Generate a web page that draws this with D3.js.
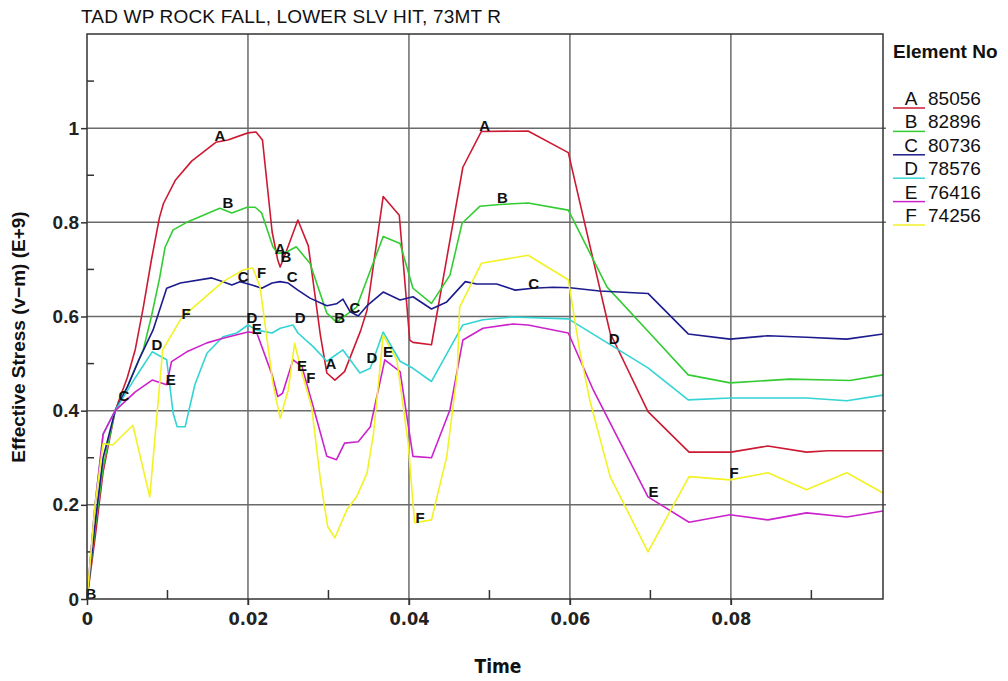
<!DOCTYPE html>
<html>
<head>
<meta charset="utf-8">
<script src="https://d3js.org/d3.v7.min.js"></script>
<style>
  body { margin: 0; background: #fff; }
  svg { display: block; font-family: "Liberation Sans", Arial, sans-serif; }
</style>
</head>
<body>
<svg width="1008" height="681"></svg>
<script>
// element numbers + letters for the legend
var letters = ["A", "B", "C", "D", "E", "F"];
var elements = ["85056", "82896", "80736", "78576", "76416", "74256"];
var colors = ["#cc1a33", "#33cc33", "#1c1c8e", "#33d4d4", "#cc22cc", "#f2f224"];

// [time, stress]
var stressA = [[0,0],[0.001,0.13],[0.002,0.27],[0.0035,0.40],[0.005,0.47],[0.006,0.53],[0.007,0.62],[0.008,0.72],[0.009,0.81],[0.0095,0.84],[0.011,0.89],[0.013,0.93],[0.016,0.97],[0.0175,0.975],[0.02,0.99],[0.021,0.992],[0.0218,0.975],[0.023,0.78],[0.0237,0.72],[0.024,0.705],[0.0248,0.74],[0.0262,0.805],[0.0275,0.75],[0.029,0.56],[0.0298,0.48],[0.0308,0.465],[0.032,0.483],[0.034,0.57],[0.0348,0.614],[0.0368,0.855],[0.0388,0.815],[0.0401,0.55],[0.0405,0.545],[0.0428,0.54],[0.0467,0.917],[0.049,0.993],[0.0548,0.994],[0.0598,0.948],[0.065,0.565],[0.0697,0.398],[0.0748,0.312],[0.08,0.312],[0.0846,0.325],[0.0894,0.312],[0.092,0.315],[0.0989,0.315]];
var stressB = [[0,0],[0.001,0.15],[0.002,0.28],[0.0035,0.40],[0.005,0.45],[0.006,0.49],[0.007,0.53],[0.008,0.6],[0.009,0.68],[0.0097,0.747],[0.0107,0.784],[0.0124,0.8],[0.0165,0.83],[0.018,0.82],[0.0199,0.832],[0.0209,0.832],[0.0217,0.82],[0.0231,0.748],[0.0237,0.734],[0.0248,0.737],[0.026,0.748],[0.0277,0.713],[0.0298,0.607],[0.031,0.588],[0.0335,0.62],[0.0368,0.77],[0.0389,0.755],[0.0405,0.66],[0.0428,0.628],[0.0451,0.688],[0.0466,0.798],[0.0488,0.834],[0.0513,0.838],[0.0548,0.841],[0.0598,0.826],[0.0646,0.663],[0.0699,0.565],[0.0747,0.476],[0.0799,0.459],[0.0873,0.467],[0.0923,0.465],[0.0948,0.464],[0.0989,0.476]];
var stressC = [[0,0],[0.001,0.16],[0.002,0.3],[0.0035,0.40],[0.005,0.45],[0.0065,0.51],[0.0082,0.571],[0.0099,0.66],[0.0116,0.671],[0.0155,0.682],[0.0169,0.674],[0.018,0.667],[0.019,0.674],[0.0205,0.667],[0.0217,0.66],[0.023,0.671],[0.024,0.674],[0.025,0.671],[0.0262,0.656],[0.0277,0.639],[0.0298,0.623],[0.031,0.627],[0.0318,0.637],[0.0327,0.61],[0.0337,0.601],[0.0348,0.623],[0.0368,0.652],[0.0389,0.635],[0.0405,0.642],[0.0428,0.616],[0.0447,0.631],[0.047,0.674],[0.0484,0.669],[0.0509,0.669],[0.0532,0.656],[0.0554,0.66],[0.0579,0.662],[0.06,0.661],[0.0637,0.654],[0.0697,0.649],[0.0747,0.563],[0.0799,0.552],[0.0846,0.559],[0.0894,0.556],[0.0944,0.552],[0.0989,0.563]];
var stressD = [[0,0],[0.001,0.2],[0.002,0.35],[0.0035,0.40],[0.006,0.47],[0.0081,0.525],[0.0099,0.508],[0.0107,0.395],[0.0112,0.366],[0.0122,0.366],[0.0134,0.455],[0.0149,0.522],[0.0169,0.557],[0.0186,0.565],[0.02,0.582],[0.0211,0.571],[0.023,0.565],[0.024,0.575],[0.0256,0.582],[0.0262,0.565],[0.0281,0.536],[0.0298,0.505],[0.0318,0.529],[0.0339,0.48],[0.0352,0.49],[0.0368,0.567],[0.0389,0.505],[0.0405,0.49],[0.0428,0.462],[0.0467,0.582],[0.0492,0.593],[0.0529,0.599],[0.0598,0.595],[0.0697,0.491],[0.0747,0.423],[0.0799,0.427],[0.0894,0.427],[0.0944,0.421],[0.0989,0.433]];
var stressE = [[0,0],[0.001,0.2],[0.002,0.35],[0.0035,0.40],[0.006,0.44],[0.0081,0.465],[0.0099,0.455],[0.0105,0.504],[0.0124,0.525],[0.0149,0.544],[0.0169,0.554],[0.02,0.567],[0.0211,0.565],[0.023,0.476],[0.0237,0.43],[0.0243,0.437],[0.0256,0.508],[0.0267,0.494],[0.0281,0.409],[0.0298,0.303],[0.031,0.296],[0.032,0.331],[0.0337,0.334],[0.0352,0.366],[0.037,0.508],[0.0389,0.483],[0.0405,0.303],[0.0428,0.3],[0.0451,0.402],[0.0467,0.55],[0.0492,0.575],[0.0529,0.584],[0.0548,0.582],[0.0598,0.565],[0.0629,0.444],[0.0697,0.217],[0.0748,0.163],[0.0799,0.179],[0.0846,0.168],[0.0894,0.183],[0.0944,0.174],[0.0989,0.187]];
var stressF = [[0,0],[0.001,0.2],[0.002,0.33],[0.0032,0.327],[0.0057,0.369],[0.0078,0.217],[0.0094,0.529],[0.0116,0.593],[0.0124,0.607],[0.0169,0.674],[0.0194,0.699],[0.0206,0.703],[0.0215,0.663],[0.0231,0.458],[0.024,0.384],[0.025,0.444],[0.0258,0.543],[0.0267,0.48],[0.0279,0.409],[0.029,0.253],[0.0299,0.154],[0.0308,0.13],[0.0323,0.19],[0.0335,0.217],[0.0348,0.268],[0.0356,0.352],[0.0368,0.56],[0.0385,0.508],[0.0399,0.331],[0.0407,0.162],[0.0428,0.168],[0.0447,0.303],[0.046,0.48],[0.0463,0.62],[0.049,0.713],[0.0548,0.73],[0.0598,0.678],[0.0612,0.529],[0.0625,0.42],[0.065,0.26],[0.0697,0.1],[0.0748,0.26],[0.0799,0.253],[0.0846,0.268],[0.0894,0.232],[0.0944,0.268],[0.0989,0.225]];

// where the letters sit on the curves [time, stress]
var marksA = [[0.0165,0.985],[0.024,0.745],[0.0303,0.50],[0.0494,1.006]];
var marksB = [[0.0175,0.843],[0.0247,0.728],[0.0314,0.597],[0.0516,0.852],[0.0005,0.011]];
var marksC = [[0.0046,0.432],[0.0194,0.686],[0.0255,0.684],[0.0333,0.62],[0.0555,0.671]];
var marksD = [[0.0087,0.54],[0.0205,0.597],[0.0265,0.597],[0.0354,0.512],[0.0655,0.554]];
var marksE = [[0.0104,0.466],[0.0211,0.574],[0.0267,0.495],[0.0374,0.525],[0.0704,0.228]];
var marksF = [[0.0123,0.607],[0.0217,0.694],[0.0278,0.47],[0.0414,0.173],[0.0804,0.268]];

var xTicks = [0, 0.02, 0.04, 0.06, 0.08];
var xMinor = [0.01, 0.03, 0.05, 0.07, 0.09];
var yTicks = [0, 0.2, 0.4, 0.6, 0.8, 1];
var yMinor = [0.1, 0.3, 0.5, 0.7, 0.9, 1.1];

var series = [stressA, stressB, stressC, stressD, stressE, stressF];
var marks = [marksA, marksB, marksC, marksD, marksE, marksF];

var svg = d3.select("svg");
var plotLeft = 87, plotRight = 883, plotTop = 34, plotBottom = 599;
var narrow = "'DejaVu Sans Condensed', 'Liberation Sans Narrow', sans-serif";

var x = d3.scaleLinear().domain([0, 0.0989]).range([plotLeft, plotRight]);
var y = d3.scaleLinear().domain([0, 1.2]).range([plotBottom, plotTop]);

// grid lines
svg.append("g")
  .selectAll("line")
  .data(xTicks.slice(1))
  .enter().append("line")
    .attr("x1", function(d) { return x(d); })
    .attr("x2", function(d) { return x(d); })
    .attr("y1", plotTop).attr("y2", plotBottom + 6)
    .attr("stroke", "#6a6a6a").attr("stroke-width", 1.5);

svg.append("g")
  .selectAll("line")
  .data(yTicks.slice(1))
  .enter().append("line")
    .attr("x1", plotLeft).attr("x2", plotRight + 3)
    .attr("y1", function(d) { return y(d); })
    .attr("y2", function(d) { return y(d); })
    .attr("stroke", "#6a6a6a").attr("stroke-width", 1.5);

// axes
var xAxis = svg.append("g")
    .attr("transform", "translate(0," + plotBottom + ")")
    .call(d3.axisBottom(x).tickValues(xTicks).tickSize(6).tickFormat(d3.format("")));
xAxis.select(".domain").remove();
xAxis.selectAll("line").attr("stroke", "#333").attr("stroke-width", 1.5);
xAxis.selectAll("text")
    .attr("y", 13)
    .attr("font-family", narrow)
    .attr("font-weight", "bold")
    .attr("font-size", 18)
    .attr("fill", "#222");

svg.append("g")
  .selectAll("line")
  .data(xMinor)
  .enter().append("line")
    .attr("x1", function(d) { return x(d); })
    .attr("x2", function(d) { return x(d); })
    .attr("y1", plotBottom).attr("y2", plotBottom - 9)
    .attr("stroke", "#333").attr("stroke-width", 1.5);

var yAxis = svg.append("g")
    .attr("transform", "translate(" + plotLeft + ",0)")
    .call(d3.axisLeft(y).tickValues(yTicks).tickSize(6).tickFormat(d3.format("")));
yAxis.select(".domain").remove();
yAxis.selectAll("line").attr("stroke", "#333").attr("stroke-width", 1.5);
yAxis.selectAll("text")
    .attr("x", -8)
    .attr("font-family", "'Liberation Sans', Arial, sans-serif")
    .attr("font-weight", "bold")
    .attr("font-size", 19)
    .attr("fill", "#222");

svg.append("g")
  .selectAll("line")
  .data(yMinor)
  .enter().append("line")
    .attr("x1", plotLeft).attr("x2", plotLeft + 7)
    .attr("y1", function(d) { return y(d); })
    .attr("y2", function(d) { return y(d); })
    .attr("stroke", "#333").attr("stroke-width", 1.5);

// the curves
var line = d3.line()
    .x(function(d) { return x(d[0]); })
    .y(function(d) { return y(d[1]); });

svg.append("g")
  .selectAll("path")
  .data(series)
  .enter().append("path")
    .attr("d", line)
    .attr("fill", "none")
    .attr("stroke", function(d, i) { return colors[i]; })
    .attr("stroke-width", 1.6)
    .attr("stroke-linejoin", "round");

// letters on the curves
marks.forEach(function(m, i) {
  svg.append("g")
    .selectAll("text")
    .data(m)
    .enter().append("text")
      .attr("x", function(d) { return x(d[0]); })
      .attr("y", function(d) { return y(d[1]); })
      .attr("text-anchor", "middle")
      .attr("dominant-baseline", "central")
      .attr("font-weight", "bold")
      .attr("font-size", 15)
      .attr("fill", "#111")
      .text(letters[i]);
});

// frame
svg.append("rect")
    .attr("x", plotLeft).attr("y", plotTop)
    .attr("width", plotRight - plotLeft).attr("height", plotBottom - plotTop)
    .attr("fill", "none")
    .attr("stroke", "#333").attr("stroke-width", 1.5);

// titles
svg.append("text")
    .attr("x", 81).attr("y", 23)
    .attr("font-size", 19)
    .attr("textLength", 420)
    .attr("fill", "#111")
    .text("TAD WP ROCK FALL, LOWER SLV HIT, 73MT R");

svg.append("text")
    .attr("x", 498).attr("y", 673)
    .attr("text-anchor", "middle")
    .attr("font-family", narrow)
    .attr("font-weight", "bold")
    .attr("font-size", 19)
    .attr("fill", "#111")
    .text("Time");

svg.append("text")
    .attr("transform", "translate(25,337) rotate(-90)")
    .attr("text-anchor", "middle")
    .attr("font-weight", "bold")
    .attr("font-size", 19)
    .attr("fill", "#111")
    .text("Effective Stress (v\u2212m) (E+9)");

// legend
var legend = svg.append("g").attr("transform", "translate(893,0)");
legend.append("text")
    .attr("x", 0).attr("y", 58)
    .attr("font-weight", "bold")
    .attr("font-size", 19)
    .attr("fill", "#111")
    .text("Element No");

var entry = legend.selectAll("g.entry")
    .data(elements)
  .enter().append("g")
    .attr("class", "entry")
    .attr("transform", function(d, i) { return "translate(0," + (105 + i * 23.4) + ")"; });

entry.append("line")
    .attr("x1", 0).attr("x2", 32)
    .attr("y1", 3).attr("y2", 3)
    .attr("stroke", function(d, i) { return colors[i]; })
    .attr("stroke-width", 1.5);

entry.append("text")
    .attr("x", 18).attr("y", 0)
    .attr("text-anchor", "middle")
    .attr("font-size", 19)
    .attr("fill", "#111")
    .text(function(d, i) { return letters[i]; });

entry.append("text")
    .attr("x", 35).attr("y", 0)
    .attr("font-size", 19)
    .attr("fill", "#111")
    .text(function(d) { return d; });
</script>
</body>
</html>
